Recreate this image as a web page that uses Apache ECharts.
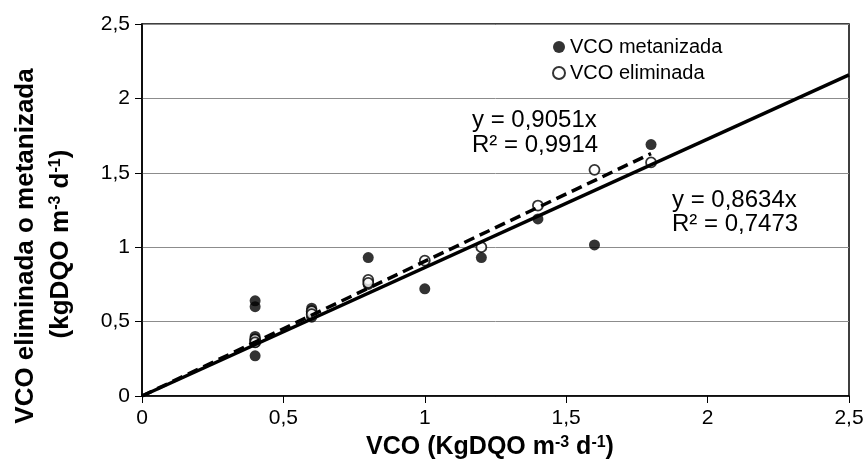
<!DOCTYPE html>
<html>
<head>
<meta charset="utf-8">
<script src="https://cdn.jsdelivr.net/npm/echarts@6/dist/echarts.min.js"></script>
<style>
  html, body { margin: 0; padding: 0; background: #fff; }
  #chart { width: 868px; height: 466px; }
</style>
</head>
<body>
<div id="chart"></div>
<script>
// Axis ticks (organic loading rate) and their labels with decimal commas
const tickValues = [0, 0.5, 1, 1.5, 2, 2.5];
const tickLabels = ['0', '0,5', '1', '1,5', '2', '2,5'];

// VCO metanizada (filled markers)
const metX = [0.4, 0.4, 0.4, 0.4, 0.4, 0.4, 0.6, 0.6, 0.6, 0.8, 0.8, 1.0, 1.2, 1.4, 1.6, 1.8];
const metY = [0.64, 0.60, 0.40, 0.38, 0.36, 0.27, 0.59, 0.56, 0.53, 0.93, 0.75, 0.72, 0.93, 1.19, 1.015, 1.69];

// VCO eliminada (open markers)
const elimX = [0.4, 0.4, 0.6, 0.6, 0.8, 0.8, 1.0, 1.2, 1.4, 1.6, 1.8];
const elimY = [0.38, 0.36, 0.57, 0.55, 0.78, 0.76, 0.91, 1.00, 1.28, 1.52, 1.57];

// Linear fits through the origin: slopes and R² as printed
const slopeMet = 0.8634, r2Met = '0,7473', slopeMetLabel = '0,8634';
const slopeElim = 0.9051, r2Elim = '0,9914', slopeElimLabel = '0,9051';
const fitMetRange = [0, 2.5];
const fitElimRange = [0, 1.8];

const FONT = '"Liberation Sans", Arial, sans-serif';

const pairs = (xs, ys) => xs.map((x, i) => [x, ys[i]]);
const fitLine = (slope, range) => range.map(x => [x, slope * x]);
const fmt = v => {
  const i = tickValues.findIndex(t => Math.abs(t - v) < 1e-9);
  return i >= 0 ? tickLabels[i] : '';
};

const chart = echarts.init(document.getElementById('chart'), null, { renderer: 'canvas' });

chart.setOption({
  backgroundColor: '#fff',
  animation: false,
  grid: {
    left: 142, right: 19, top: 24, bottom: 70,
    show: true, borderColor: '#000', borderWidth: 1.5
  },
  xAxis: {
    type: 'value', min: 0, max: 2.5, interval: 0.5,
    axisLine: { show: true, onZero: false, lineStyle: { color: '#000', width: 1.5 } },
    axisTick: { show: true, inside: false, length: 7, lineStyle: { color: '#000', width: 1 } },
    axisLabel: { formatter: fmt, color: '#000', fontSize: 21, fontFamily: FONT, margin: 12 },
    splitLine: { show: false }
  },
  yAxis: {
    type: 'value', min: 0, max: 2.5, interval: 0.5,
    axisLine: { show: true, onZero: false, lineStyle: { color: '#000', width: 1.5 } },
    axisTick: { show: true, inside: false, length: 7, lineStyle: { color: '#000', width: 1 } },
    axisLabel: { formatter: fmt, color: '#000', fontSize: 21, fontFamily: FONT, margin: 12 },
    splitLine: { show: true, lineStyle: { color: '#8c8c8c', width: 1 } }
  },
  legend: {
    data: ['VCO metanizada', 'VCO eliminada'],
    orient: 'vertical', left: 552, top: 36, padding: 0,
    itemWidth: 12, itemHeight: 12, itemGap: 4,
    textStyle: { color: '#000', fontSize: 20, lineHeight: 22, fontFamily: FONT }
  },
  series: [
    {
      name: 'VCO metanizada', type: 'scatter', symbol: 'circle', symbolSize: 11,
      itemStyle: { color: '#000' }, z: 2,
      data: pairs(metX, metY)
    },
    {
      name: 'VCO eliminada', type: 'scatter', symbol: 'circle', symbolSize: 10,
      itemStyle: { color: '#fff', borderColor: '#000', borderWidth: 1.8 }, z: 3,
      data: pairs(elimX, elimY)
    },
    {
      name: 'fit metanizada', type: 'line', symbol: 'none', silent: true, z: 4,
      lineStyle: { color: '#000', width: 3.5 },
      data: fitLine(slopeMet, fitMetRange)
    },
    {
      name: 'fit eliminada', type: 'line', symbol: 'none', silent: true, z: 5,
      lineStyle: { color: '#000', width: 3.5, type: [11, 6] },
      data: fitLine(slopeElim, fitElimRange)
    }
  ],
  graphic: [
    {
      type: 'text', x: 26, y: 246, rotation: Math.PI / 2,
      style: {
        text: 'VCO eliminada o metanizada',
        fontSize: 26, fontWeight: 'bold', fontFamily: FONT, fill: '#000',
        textAlign: 'center', textVerticalAlign: 'middle'
      }
    },
    {
      type: 'text', x: 61, y: 244, rotation: Math.PI / 2,
      style: {
        text: '(kgDQO m{s|-3} d{s|-1})',
        fontSize: 26, fontWeight: 'bold', fontFamily: FONT, fill: '#000',
        textAlign: 'center', textVerticalAlign: 'middle',
        rich: { s: { fontSize: 16, fontWeight: 'bold', fontFamily: FONT, fill: '#000', verticalAlign: 'top' } }
      }
    },
    {
      type: 'text', x: 490, y: 447,
      style: {
        text: 'VCO (KgDQO m{s|-3} d{s|-1})',
        fontSize: 25, fontWeight: 'bold', fontFamily: FONT, fill: '#000',
        textAlign: 'center', textVerticalAlign: 'middle',
        rich: { s: { fontSize: 16, fontWeight: 'bold', fontFamily: FONT, fill: '#000', verticalAlign: 'top' } }
      }
    },
    {
      type: 'text', x: 472, y: 120,
      style: {
        text: 'y = ' + slopeElimLabel + 'x',
        fontSize: 24, fontFamily: FONT, fill: '#000',
        textAlign: 'left', textVerticalAlign: 'middle'
      }
    },
    {
      type: 'text', x: 472, y: 145,
      style: {
        text: 'R² = ' + r2Elim,
        fontSize: 24, fontFamily: FONT, fill: '#000',
        textAlign: 'left', textVerticalAlign: 'middle'
      }
    },
    {
      type: 'text', x: 672, y: 200,
      style: {
        text: 'y = ' + slopeMetLabel + 'x',
        fontSize: 24, fontFamily: FONT, fill: '#000',
        textAlign: 'left', textVerticalAlign: 'middle'
      }
    },
    {
      type: 'text', x: 672, y: 224,
      style: {
        text: 'R² = ' + r2Met,
        fontSize: 24, fontFamily: FONT, fill: '#000',
        textAlign: 'left', textVerticalAlign: 'middle'
      }
    }
  ]
});
</script>
</body>
</html>
